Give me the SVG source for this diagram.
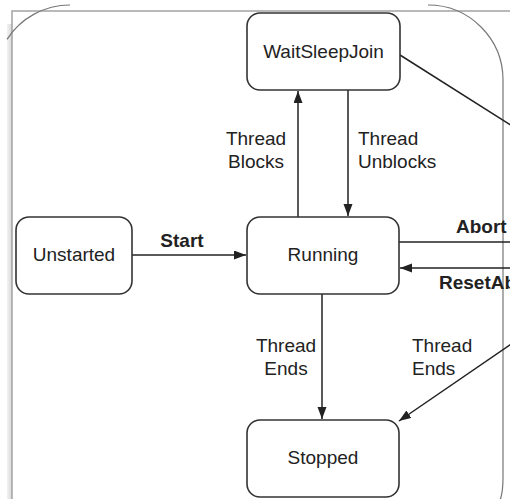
<svg xmlns="http://www.w3.org/2000/svg" width="510" height="499" viewBox="0 0 510 499">
  <defs>
    <marker id="arrow" markerUnits="userSpaceOnUse" markerWidth="13" markerHeight="10" refX="12" refY="4.5" orient="auto">
      <path d="M0,0 L12,4.5 L0,9 Z" fill="#222"/>
    </marker>
    <linearGradient id="shade" x1="0" y1="0" x2="1" y2="0">
      <stop offset="0" stop-color="#f2f2f2"/>
      <stop offset="1" stop-color="#d8d8d8"/>
    </linearGradient>
  </defs>
  <style>
    .node rect { fill: #fff; stroke: #333; stroke-width: 1.6; }
    .lbl { font-family: "Liberation Sans", Arial, sans-serif; font-size: 19px; fill: #222; }
    .bold { font-weight: bold; }
    .mid { text-anchor: middle; }
    .conn line { stroke: #222; stroke-width: 1.5; fill: none; }
    .frame { stroke: #a3a3a3; stroke-width: 1.5; fill: none; }
    .outline { stroke: #777; stroke-width: 1.2; fill: none; }
  </style>
  <rect width="510" height="499" fill="#fff"/>

  <g id="frame">
    <rect x="7" y="24" width="5" height="475" fill="url(#shade)"/>
    <path class="frame" d="M12,499 L12,11 L510,11"/>
    <path class="outline" d="M7,39.3 A75,75 0 0 1 70,5"/>
    <path class="outline" d="M428,5 A75,75 0 0 1 503,80 L503,478 Q503,494 499,503"/>
  </g>

  <g id="connectors" class="conn">
    <line x1="298" y1="217" x2="298" y2="91" marker-end="url(#arrow)"/>
    <line x1="348" y1="90" x2="348" y2="216" marker-end="url(#arrow)"/>
    <line x1="132" y1="255" x2="246" y2="255" marker-end="url(#arrow)"/>
    <line x1="399" y1="242" x2="512" y2="242"/>
    <line x1="512" y1="268" x2="400" y2="268" marker-end="url(#arrow)"/>
    <line x1="400" y1="55" x2="520" y2="131"/>
    <line x1="322" y1="294" x2="322" y2="419" marker-end="url(#arrow)"/>
    <line x1="520" y1="338" x2="399" y2="421" marker-end="url(#arrow)"/>
  </g>

  <g id="labels">
    <text class="lbl mid" x="256" y="145">Thread</text>
    <text class="lbl mid" x="256" y="168">Blocks</text>
    <text class="lbl" x="358" y="145">Thread</text>
    <text class="lbl" x="358" y="168">Unblocks</text>
    <text class="lbl bold mid" x="182" y="247">Start</text>
    <text class="lbl bold" x="456" y="233">Abort</text>
    <text class="lbl bold" x="439" y="289">ResetAb</text>
    <text class="lbl mid" x="286" y="352">Thread</text>
    <text class="lbl mid" x="286" y="375">Ends</text>
    <text class="lbl" x="412" y="352">Thread</text>
    <text class="lbl" x="412" y="375">Ends</text>
  </g>

  <g id="node-waitsleepjoin" class="node">
    <rect x="247" y="13" width="153" height="77" rx="13"/>
    <text class="lbl mid" x="323.5" y="58">WaitSleepJoin</text>
  </g>
  <g id="node-unstarted" class="node">
    <rect x="16" y="217" width="116" height="77" rx="13"/>
    <text class="lbl mid" x="74" y="261">Unstarted</text>
  </g>
  <g id="node-running" class="node">
    <rect x="247" y="217" width="152" height="77" rx="13"/>
    <text class="lbl mid" x="323" y="261">Running</text>
  </g>
  <g id="node-stopped" class="node">
    <rect x="247" y="420" width="152" height="77" rx="13"/>
    <text class="lbl mid" x="323" y="464">Stopped</text>
  </g>
</svg>
